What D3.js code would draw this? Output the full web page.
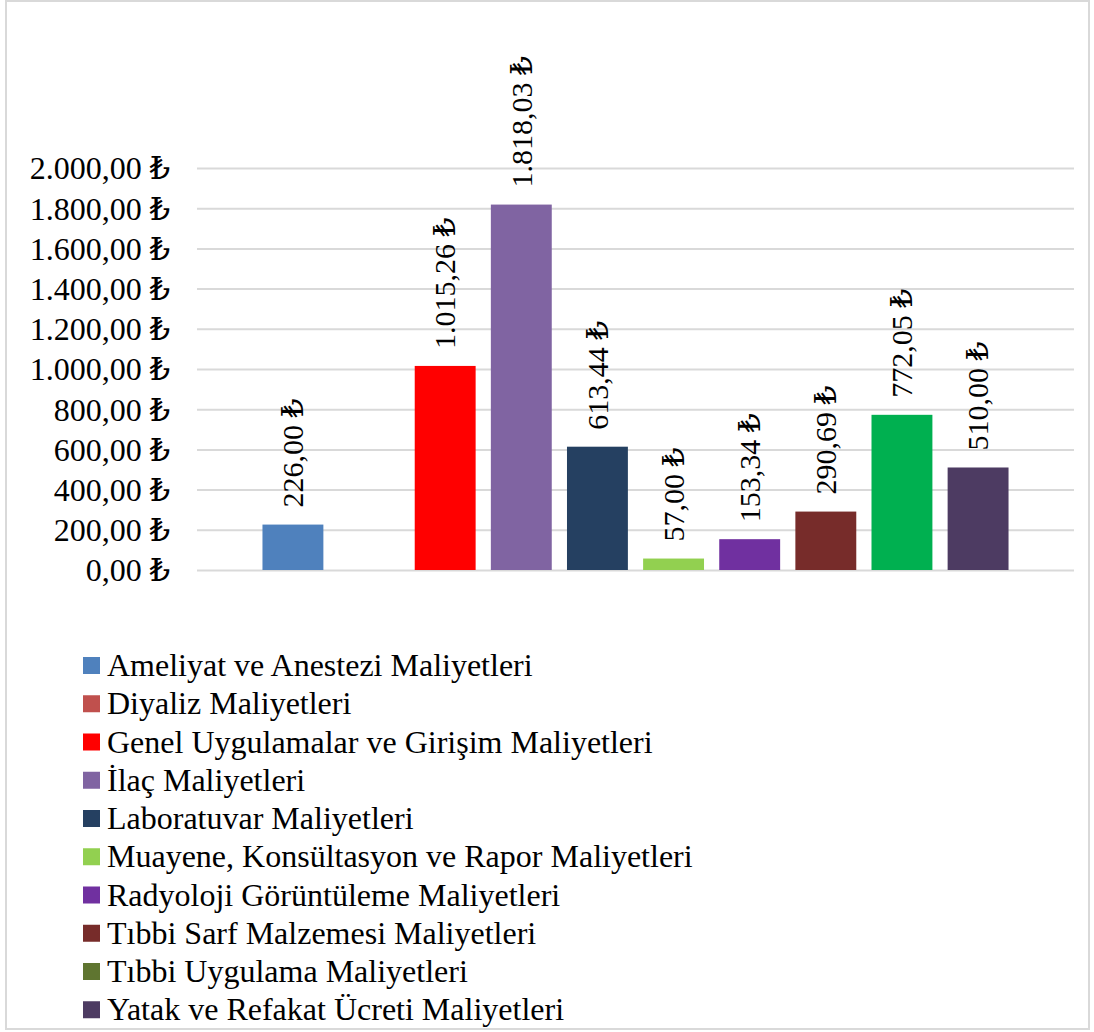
<!DOCTYPE html>
<html lang="tr">
<head>
<meta charset="utf-8">
<script src="https://cdn.jsdelivr.net/npm/d3@7"></script>
<style>
  html, body { margin: 0; padding: 0; background: #fff; }
  svg { display: block; }
  text { font-family: "Liberation Serif", "Times New Roman", "DejaVu Serif", serif; fill: #000; }
</style>
</head>
<body>
<svg id="chart" width="1094" height="1032"></svg>
<script>
// Maliyet kalemleri (tek kategori, on seri)
const groups = ["Toplam"];
const seriesNames = [
  "Ameliyat ve Anestezi Maliyetleri",
  "Diyaliz Maliyetleri",
  "Genel Uygulamalar ve Girişim Maliyetleri",
  "İlaç Maliyetleri",
  "Laboratuvar Maliyetleri",
  "Muayene, Konsültasyon ve Rapor Maliyetleri",
  "Radyoloji Görüntüleme Maliyetleri",
  "Tıbbi Sarf Malzemesi Maliyetleri",
  "Tıbbi Uygulama Maliyetleri",
  "Yatak ve Refakat Ücreti Maliyetleri"
];
const seriesValues = [226.00, null, 1015.26, 1818.03, 613.44, 57.00, 153.34, 290.69, 772.05, 510.00];
const yTicks = [0, 200, 400, 600, 800, 1000, 1200, 1400, 1600, 1800, 2000];

// Renkler: lejant renkleri ve (bir noktada farklı biçimlenmiş) çubuk renkleri
const legendColors = ["#4F81BD", "#C0504D", "#FF0000", "#8064A2", "#254061", "#92D050", "#7030A0", "#772C2A", "#5F7530", "#4D3B62"];
const barColors    = ["#4F81BD", "#C0504D", "#FF0000", "#8064A2", "#254061", "#92D050", "#7030A0", "#772C2A", "#00B050", "#4D3B62"];

const tr = d3.formatLocale({ decimal: ",", thousands: ".", grouping: [3], currency: ["", " ₺"] });
const fmt = tr.format("$,.2f");

const svg = d3.select("#chart");
const plot = { left: 197, right: 1074, top: 168, bottom: 570 };
const FS = 32;       // eksen ve lejant yazı boyutu
const FS_LBL = 30;   // değer etiketi yazı boyutu

// Dış çerçeve
svg.append("rect")
  .attr("x", 6).attr("y", 1).attr("width", 1083).attr("height", 1028)
  .attr("fill", "#fff").attr("stroke", "#d9d9d9").attr("stroke-width", 2);

const y = d3.scaleLinear().domain([0, 2000]).range([plot.bottom, plot.top]);
const x0 = d3.scaleBand().domain(groups).range([plot.left, plot.right]).paddingOuter(0.076);
const x1 = d3.scaleBand().domain(seriesNames).range([0, x0.bandwidth()]).paddingInner(0.2).paddingOuter(0.1);

// Y ekseni ve yatay kılavuz çizgileri
const yAxis = d3.axisLeft(y).tickValues(yTicks).tickFormat(fmt)
  .tickSize(-(plot.right - plot.left)).tickPadding(27);
const gy = svg.append("g").attr("transform", `translate(${plot.left},0)`).call(yAxis);
gy.select(".domain").remove();
gy.selectAll(".tick line").attr("stroke", "#d9d9d9").attr("stroke-width", 2);
gy.selectAll(".tick text")
  .attr("font-size", FS).attr("fill", "#000").attr("dy", "0.34em");
gy.attr("font-family", null).attr("font-size", null);

// Çubuklar
const data = seriesNames.map((name, i) => ({ name, value: seriesValues[i], i }));
const g = svg.append("g").attr("transform", `translate(${x0(groups[0])},0)`);
g.selectAll("rect.bar")
  .data(data.filter(d => d.value != null))
  .join("rect")
  .attr("class", "bar")
  .attr("x", d => x1(d.name))
  .attr("y", d => y(d.value))
  .attr("width", x1.bandwidth())
  .attr("height", d => y(0) - y(d.value))
  .attr("fill", d => barColors[d.i]);

// Değer etiketleri (dikey)
g.selectAll("text.lbl")
  .data(data.filter(d => d.value != null))
  .join("text")
  .attr("class", "lbl")
  .attr("transform", d => `translate(${x1(d.name) + x1.bandwidth() / 2},${y(d.value) - 17}) rotate(-90)`)
  .attr("dy", "0.34em")
  .attr("text-anchor", "start")
  .attr("font-size", FS_LBL)
  .text(d => fmt(d.value));

// Lejant
const legend = svg.append("g").attr("transform", "translate(83,657)");
const rowH = 38.25;
const items = legend.selectAll("g").data(seriesNames).join("g")
  .attr("transform", (d, i) => `translate(0,${i * rowH})`);
items.append("rect").attr("width", 17).attr("height", 17).attr("fill", (d, i) => legendColors[i]);
items.append("text").attr("x", 24).attr("y", 19).attr("font-size", FS).text(d => d);
</script>
</body>
</html>
